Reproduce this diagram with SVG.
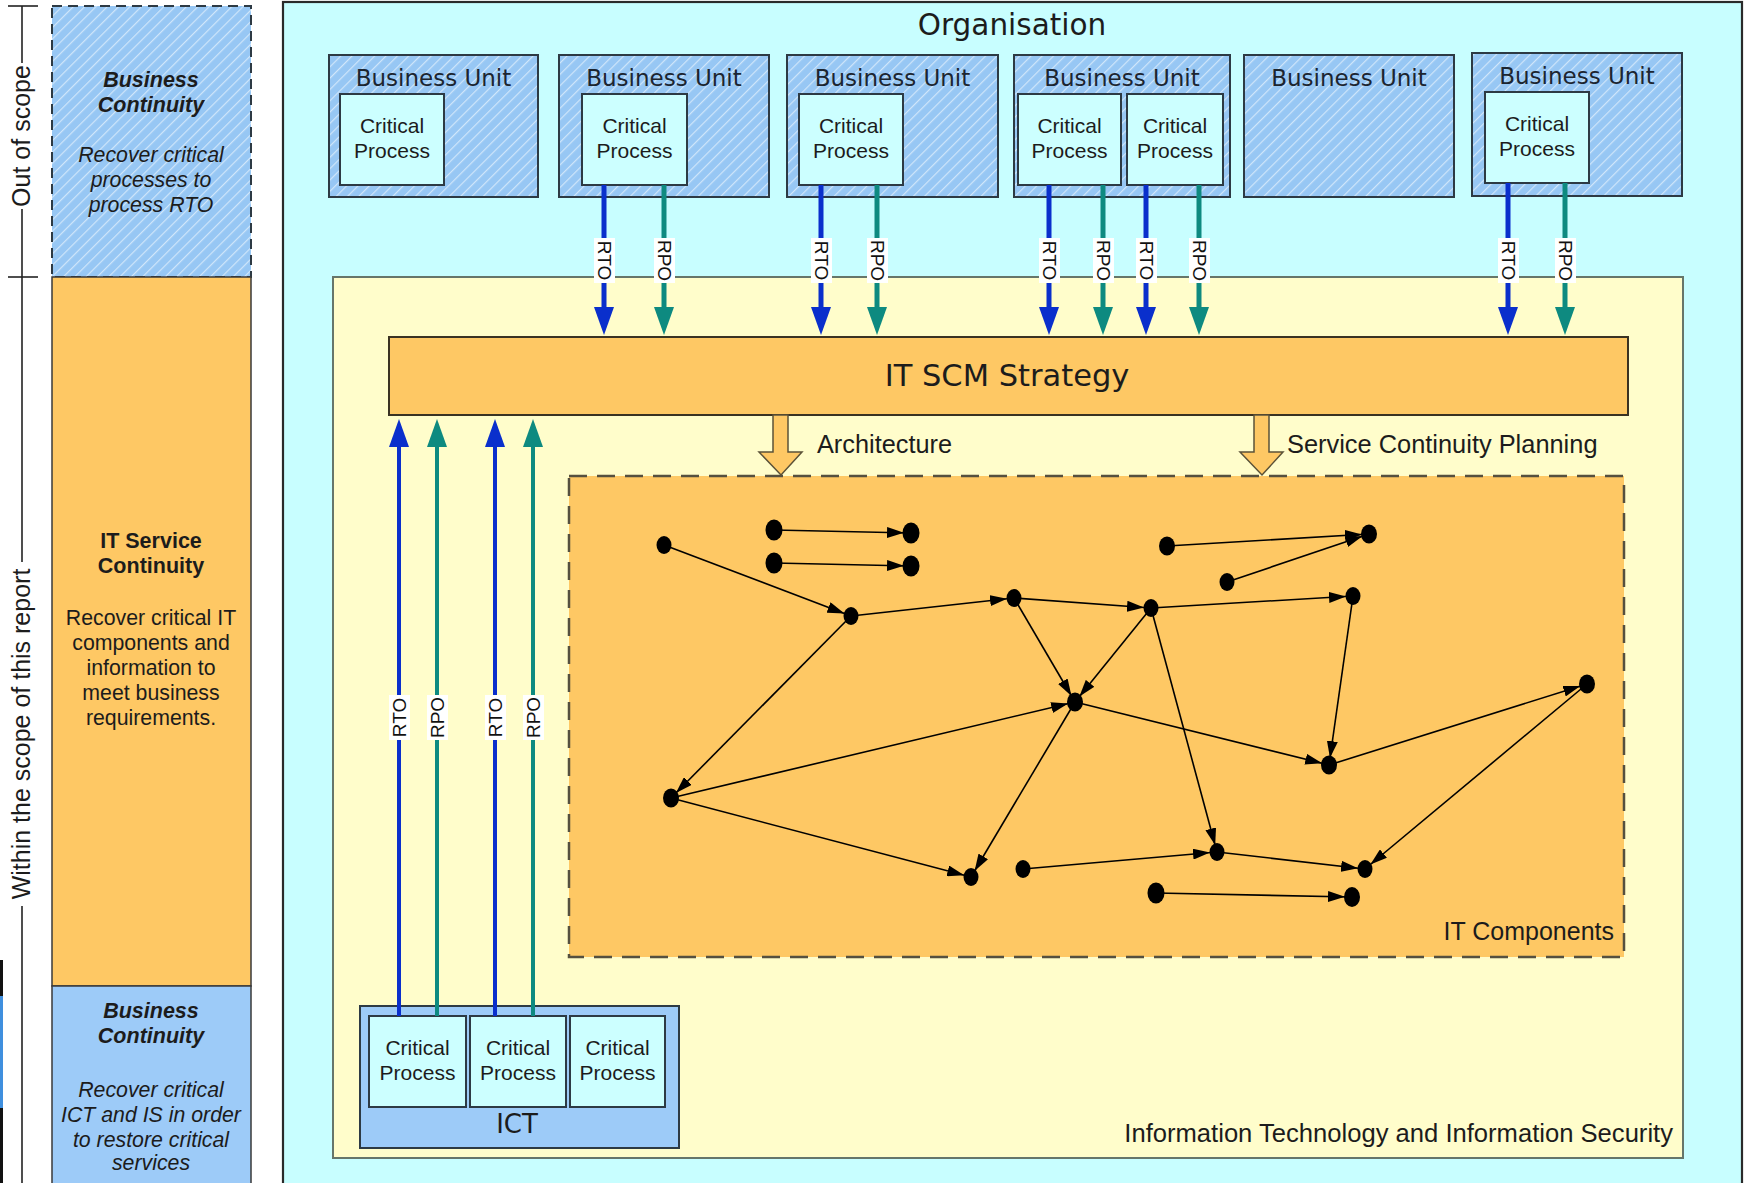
<svg xmlns="http://www.w3.org/2000/svg" width="1744" height="1183" viewBox="0 0 1744 1183">
  <defs>
    <pattern id="hatch" patternUnits="userSpaceOnUse" width="8" height="8" patternTransform="rotate(45)">
      <rect width="8" height="8" fill="#97c7f4"/>
      <line x1="0" y1="0" x2="0" y2="8" stroke="#ffffff" stroke-opacity="0.55" stroke-width="2.4"/>
    </pattern>
    <marker id="ahBlue" markerUnits="userSpaceOnUse" markerWidth="28" markerHeight="20" refX="1" refY="10" orient="auto">
      <path d="M0,0 L28,10 L0,20 z" fill="#0a2fcc"/>
    </marker>
    <marker id="ahTeal" markerUnits="userSpaceOnUse" markerWidth="28" markerHeight="20" refX="1" refY="10" orient="auto">
      <path d="M0,0 L28,10 L0,20 z" fill="#0e8a80"/>
    </marker>
    <marker id="ahDot" markerUnits="userSpaceOnUse" markerWidth="17" markerHeight="11" refX="24" refY="5.5" orient="auto">
      <path d="M0,0 L17,5.5 L0,11 z" fill="#000"/>
    </marker>
  </defs>
  <style>
    .sans { font-family: "Liberation Sans", Arial, sans-serif; fill: #1c1c1c; }
    .verd { font-family: "DejaVu Sans", Verdana, sans-serif; fill: #1c1c1c; }
    .lane-title { font-family: "Liberation Sans", Arial, sans-serif; font-size: 21.5px; font-weight: bold; fill: #1c1c1c; text-anchor: middle; }
    .lane-text { font-family: "Liberation Sans", Arial, sans-serif; font-size: 21.3px; fill: #1c1c1c; text-anchor: middle; }
    .it { font-style: italic; }
    .bu { fill: url(#hatch); stroke: #2d3a44; stroke-width: 2; }
    .bu-label { font-family: "DejaVu Sans", Verdana, sans-serif; font-size: 23px; fill: #1c2530; text-anchor: middle; }
    .cp { fill: #ccffff; stroke: #2d3a44; stroke-width: 2; }
    .cp-label { font-family: "Liberation Sans", Arial, sans-serif; font-size: 21px; fill: #1c1c1c; text-anchor: middle; }
    .rto { stroke: #0a2fcc; stroke-width: 5; fill: none; }
    .rpo { stroke: #0e8a80; stroke-width: 5; fill: none; }
    .rto-up { stroke: #0a2fcc; stroke-width: 4; fill: none; }
    .rpo-up { stroke: #0e8a80; stroke-width: 4; fill: none; }
    .flow-label { font-family: "Liberation Sans", Arial, sans-serif; font-size: 19px; fill: #111; text-anchor: middle; }
    .tag-bg { fill: #ffffff; }
    .edge { stroke: #000; stroke-width: 1.6; fill: none; }
    .dot { fill: #000; }
    .block-arrow { fill: #fec864; stroke: #5b5238; stroke-width: 1.5; }
  </style>

  <!-- page background -->
  <rect x="0" y="0" width="1744" height="1183" fill="#ffffff"/>
  <!-- cropped edge at the lower left -->
  <rect x="0" y="960" width="3" height="36" fill="#111"/>
  <rect x="0" y="996" width="3" height="112" fill="#3f8fde"/>
  <rect x="0" y="1108" width="3" height="75" fill="#111"/>

  <!-- scope ruler -->
  <g id="scope-ruler" stroke="#222" stroke-width="1.6">
    <line x1="22" y1="6" x2="22" y2="63"/>
    <line x1="22" y1="209" x2="22" y2="562"/>
    <line x1="22" y1="906" x2="22" y2="1183"/>
    <line x1="8" y1="6" x2="38" y2="6"/>
    <line x1="8" y1="277" x2="38" y2="277"/>
  </g>
  <text class="sans" font-size="25" text-anchor="middle" transform="translate(30,136) rotate(-90)">Out of scope</text>
  <text class="sans" font-size="25" text-anchor="middle" transform="translate(30,734) rotate(-90)">Within the scope of this report</text>

  <!-- left lanes -->
  <g id="lane-business-out">
    <rect x="52" y="6" width="199" height="271" fill="url(#hatch)" stroke="#2d3a44" stroke-width="2" stroke-dasharray="10 6"/>
    <text class="lane-title it" x="151" y="87">Business</text>
    <text class="lane-title it" x="151" y="112">Continuity</text>
    <text class="lane-text it" x="151" y="162">Recover critical</text>
    <text class="lane-text it" x="151" y="187">processes to</text>
    <text class="lane-text it" x="151" y="212">process RTO</text>
  </g>
  <g id="lane-it-service">
    <rect x="52" y="277" width="199" height="709" fill="#fec864" stroke="#3a3a3a" stroke-width="1.5"/>
    <text class="lane-title" x="151" y="548">IT Service</text>
    <text class="lane-title" x="151" y="573">Continuity</text>
    <text class="lane-text" x="151" y="625">Recover critical IT</text>
    <text class="lane-text" x="151" y="650">components and</text>
    <text class="lane-text" x="151" y="675">information to</text>
    <text class="lane-text" x="151" y="700">meet business</text>
    <text class="lane-text" x="151" y="725">requirements.</text>
  </g>
  <g id="lane-business-in">
    <rect x="52" y="986" width="199" height="205" fill="#9dcbf8" stroke="#3a3a3a" stroke-width="1.5"/>
    <text class="lane-title it" x="151" y="1018">Business</text>
    <text class="lane-title it" x="151" y="1043">Continuity</text>
    <text class="lane-text it" x="151" y="1097">Recover critical</text>
    <text class="lane-text it" x="151" y="1122">ICT and IS in order</text>
    <text class="lane-text it" x="151" y="1147">to restore critical</text>
    <text class="lane-text it" x="151" y="1170">services</text>
  </g>

  <!-- organisation container -->
  <g id="organisation">
    <rect x="283" y="2" width="1459" height="1195" fill="#c8feff" stroke="#2a2a2a" stroke-width="2.2"/>
    <text class="verd" font-size="29.5" text-anchor="middle" x="1012" y="35">Organisation</text>
  </g>

  <!-- IT and IS container -->
  <g id="it-is">
    <rect x="333" y="277" width="1350" height="881" fill="#fffdcb" stroke="#66766a" stroke-width="2"/>
    <text class="sans" font-size="25.6" text-anchor="end" x="1673" y="1142">Information Technology and Information Security</text>
  </g>

  <!-- business units -->
  <g id="bu-1">
    <rect class="bu" x="329" y="55" width="209" height="142"/>
    <text class="bu-label" x="433.5" y="86">Business Unit</text>
  </g>
  <g id="bu-2">
    <rect class="bu" x="559" y="55" width="210" height="142"/>
    <text class="bu-label" x="664" y="86">Business Unit</text>
  </g>
  <g id="bu-3">
    <rect class="bu" x="787" y="55" width="211" height="142"/>
    <text class="bu-label" x="892.5" y="86">Business Unit</text>
  </g>
  <g id="bu-4">
    <rect class="bu" x="1014" y="55" width="216" height="142"/>
    <text class="bu-label" x="1122" y="86">Business Unit</text>
  </g>
  <g id="bu-5">
    <rect class="bu" x="1244" y="55" width="210" height="142"/>
    <text class="bu-label" x="1349" y="86">Business Unit</text>
  </g>
  <g id="bu-6">
    <rect class="bu" x="1472" y="53" width="210" height="143"/>
    <text class="bu-label" x="1577" y="84">Business Unit</text>
  </g>

  <!-- critical processes inside business units -->
  <g id="cp-bu1">
    <rect class="cp" x="340" y="94" width="104" height="91"/>
    <text class="cp-label" x="392" y="133">Critical</text>
    <text class="cp-label" x="392" y="158">Process</text>
  </g>
  <g id="cp-bu2">
    <rect class="cp" x="582" y="94" width="105" height="91"/>
    <text class="cp-label" x="634.5" y="133">Critical</text>
    <text class="cp-label" x="634.5" y="158">Process</text>
  </g>
  <g id="cp-bu3">
    <rect class="cp" x="799" y="94" width="104" height="91"/>
    <text class="cp-label" x="851" y="133">Critical</text>
    <text class="cp-label" x="851" y="158">Process</text>
  </g>
  <g id="cp-bu4a">
    <rect class="cp" x="1018" y="94" width="103" height="91"/>
    <text class="cp-label" x="1069.5" y="133">Critical</text>
    <text class="cp-label" x="1069.5" y="158">Process</text>
  </g>
  <g id="cp-bu4b">
    <rect class="cp" x="1127" y="94" width="96" height="91"/>
    <text class="cp-label" x="1175" y="133">Critical</text>
    <text class="cp-label" x="1175" y="158">Process</text>
  </g>
  <g id="cp-bu6">
    <rect class="cp" x="1485" y="92" width="104" height="91"/>
    <text class="cp-label" x="1537" y="131">Critical</text>
    <text class="cp-label" x="1537" y="156">Process</text>
  </g>

  <!-- strategy bar -->
  <g id="it-scm-strategy">
    <rect x="389" y="337" width="1239" height="78" fill="#fec864" stroke="#3a3222" stroke-width="2"/>
    <text class="verd" font-size="30.5" text-anchor="middle" x="1007" y="386">IT SCM Strategy</text>
  </g>

  <!-- IT components area -->
  <g id="it-components">
    <rect x="569" y="476" width="1055" height="481" fill="#fec864" stroke="#55503f" stroke-width="2.5" stroke-dasharray="18 10"/>
    <text class="sans" font-size="25" text-anchor="end" x="1614" y="940">IT Components</text>
  </g>

  <!-- ICT -->
  <g id="ict">
    <rect x="360" y="1006" width="319" height="142" fill="#9dcbf8" stroke="#2d3a44" stroke-width="2"/>
    <text class="verd" font-size="26" text-anchor="middle" x="517" y="1133">ICT</text>
  </g>
  <g id="cp-ict1">
    <rect class="cp" x="369" y="1016" width="97" height="91"/>
    <text class="cp-label" x="417.5" y="1055">Critical</text>
    <text class="cp-label" x="417.5" y="1080">Process</text>
  </g>
  <g id="cp-ict2">
    <rect class="cp" x="470" y="1016" width="96" height="91"/>
    <text class="cp-label" x="518" y="1055">Critical</text>
    <text class="cp-label" x="518" y="1080">Process</text>
  </g>
  <g id="cp-ict3">
    <rect class="cp" x="570" y="1016" width="95" height="91"/>
    <text class="cp-label" x="617.5" y="1055">Critical</text>
    <text class="cp-label" x="617.5" y="1080">Process</text>
  </g>

  <!-- component nodes -->
  <g id="components">
    <g id="n1"><ellipse class="dot" cx="664" cy="545" rx="7.5" ry="9"/></g>
    <g id="n2"><ellipse class="dot" cx="774" cy="530" rx="8.5" ry="10.5"/></g>
    <g id="n3"><ellipse class="dot" cx="911" cy="533" rx="8.5" ry="10.5"/></g>
    <g id="n4"><ellipse class="dot" cx="774" cy="563" rx="8.5" ry="10.5"/></g>
    <g id="n5"><ellipse class="dot" cx="911" cy="566" rx="8.5" ry="10.5"/></g>
    <g id="n6"><ellipse class="dot" cx="851" cy="616" rx="7.5" ry="9"/></g>
    <g id="n7"><ellipse class="dot" cx="1014" cy="598" rx="7.5" ry="9"/></g>
    <g id="n8"><ellipse class="dot" cx="1075" cy="702" rx="8" ry="9.5"/></g>
    <g id="n9"><ellipse class="dot" cx="671" cy="798" rx="8" ry="9.5"/></g>
    <g id="n10"><ellipse class="dot" cx="1167" cy="546" rx="8" ry="9.5"/></g>
    <g id="n11"><ellipse class="dot" cx="1369" cy="534" rx="8" ry="9.5"/></g>
    <g id="n12"><ellipse class="dot" cx="1227" cy="582" rx="7.5" ry="9"/></g>
    <g id="n13"><ellipse class="dot" cx="1151" cy="608" rx="7.5" ry="9"/></g>
    <g id="n14"><ellipse class="dot" cx="1353" cy="596" rx="7.5" ry="9"/></g>
    <g id="n15"><ellipse class="dot" cx="1329" cy="765" rx="8" ry="9.5"/></g>
    <g id="n16"><ellipse class="dot" cx="1587" cy="684" rx="8" ry="9.5"/></g>
    <g id="n17"><ellipse class="dot" cx="971" cy="877" rx="7.5" ry="9"/></g>
    <g id="n18"><ellipse class="dot" cx="1023" cy="869" rx="7.5" ry="9"/></g>
    <g id="n19"><ellipse class="dot" cx="1217" cy="852" rx="7.5" ry="9"/></g>
    <g id="n20"><ellipse class="dot" cx="1365" cy="869" rx="7.5" ry="9"/></g>
    <g id="n21"><ellipse class="dot" cx="1156" cy="893" rx="8.5" ry="10.5"/></g>
    <g id="n22"><ellipse class="dot" cx="1352" cy="897" rx="8" ry="10"/></g>
  </g>

  <!-- connectors -->
  <g id="connectors">
    <!-- block arrows from the strategy -->
    <path class="block-arrow" d="M773,415 L788,415 L788,452 L802,452 L781,475 L759,452 L773,452 z"/>
    <path class="block-arrow" d="M1254,415 L1269,415 L1269,452 L1283,452 L1262,475 L1240,452 L1254,452 z"/>

    <!-- business requirements flowing down -->
    <line class="rto" x1="604" y1="185" x2="604" y2="308" marker-end="url(#ahBlue)"/>
    <line class="rpo" x1="664" y1="185" x2="664" y2="308" marker-end="url(#ahTeal)"/>
    <line class="rto" x1="821" y1="185" x2="821" y2="308" marker-end="url(#ahBlue)"/>
    <line class="rpo" x1="877" y1="185" x2="877" y2="308" marker-end="url(#ahTeal)"/>
    <line class="rto" x1="1049" y1="185" x2="1049" y2="308" marker-end="url(#ahBlue)"/>
    <line class="rpo" x1="1103" y1="185" x2="1103" y2="308" marker-end="url(#ahTeal)"/>
    <line class="rto" x1="1146" y1="185" x2="1146" y2="308" marker-end="url(#ahBlue)"/>
    <line class="rpo" x1="1199" y1="185" x2="1199" y2="308" marker-end="url(#ahTeal)"/>
    <line class="rto" x1="1508" y1="183" x2="1508" y2="308" marker-end="url(#ahBlue)"/>
    <line class="rpo" x1="1565" y1="183" x2="1565" y2="308" marker-end="url(#ahTeal)"/>

    <!-- ICT requirements flowing up -->
    <line class="rto-up" x1="399" y1="1016" x2="399" y2="446" marker-end="url(#ahBlue)"/>
    <line class="rpo-up" x1="437" y1="1016" x2="437" y2="446" marker-end="url(#ahTeal)"/>
    <line class="rto-up" x1="495" y1="1016" x2="495" y2="446" marker-end="url(#ahBlue)"/>
    <line class="rpo-up" x1="533" y1="1016" x2="533" y2="446" marker-end="url(#ahTeal)"/>

    <!-- labels on the flows -->
    <g id="flow-labels">
      <rect class="tag-bg" x="594" y="238" width="21" height="45"/>
      <text class="flow-label" transform="translate(597.5,260.5) rotate(90)">RTO</text>
      <rect class="tag-bg" x="654" y="238" width="21" height="45"/>
      <text class="flow-label" transform="translate(657.5,260.5) rotate(90)">RPO</text>
      <rect class="tag-bg" x="811" y="238" width="21" height="45"/>
      <text class="flow-label" transform="translate(814.5,260.5) rotate(90)">RTO</text>
      <rect class="tag-bg" x="867" y="238" width="21" height="45"/>
      <text class="flow-label" transform="translate(870.5,260.5) rotate(90)">RPO</text>
      <rect class="tag-bg" x="1039" y="238" width="21" height="45"/>
      <text class="flow-label" transform="translate(1042.5,260.5) rotate(90)">RTO</text>
      <rect class="tag-bg" x="1093" y="238" width="21" height="45"/>
      <text class="flow-label" transform="translate(1096.5,260.5) rotate(90)">RPO</text>
      <rect class="tag-bg" x="1136" y="238" width="21" height="45"/>
      <text class="flow-label" transform="translate(1139.5,260.5) rotate(90)">RTO</text>
      <rect class="tag-bg" x="1189" y="238" width="21" height="45"/>
      <text class="flow-label" transform="translate(1192.5,260.5) rotate(90)">RPO</text>
      <rect class="tag-bg" x="1498" y="238" width="21" height="45"/>
      <text class="flow-label" transform="translate(1501.5,260.5) rotate(90)">RTO</text>
      <rect class="tag-bg" x="1555" y="238" width="21" height="45"/>
      <text class="flow-label" transform="translate(1558.5,260.5) rotate(90)">RPO</text>

      <rect class="tag-bg" x="389" y="695" width="21" height="45"/>
      <text class="flow-label" transform="translate(405.5,717.5) rotate(-90)">RTO</text>
      <rect class="tag-bg" x="427" y="695" width="21" height="45"/>
      <text class="flow-label" transform="translate(443.5,717.5) rotate(-90)">RPO</text>
      <rect class="tag-bg" x="485" y="695" width="21" height="45"/>
      <text class="flow-label" transform="translate(501.5,717.5) rotate(-90)">RTO</text>
      <rect class="tag-bg" x="523" y="695" width="21" height="45"/>
      <text class="flow-label" transform="translate(539.5,717.5) rotate(-90)">RPO</text>
    </g>

    <text class="sans" font-size="25.3" x="817" y="453">Architecture</text>
    <text class="sans" font-size="25.4" x="1287" y="453">Service Continuity Planning</text>

    <!-- dependencies between IT components -->
    <line class="edge" x1="774" y1="530" x2="911" y2="533" marker-end="url(#ahDot)"/>
    <line class="edge" x1="774" y1="563" x2="911" y2="566" marker-end="url(#ahDot)"/>
    <line class="edge" x1="664" y1="545" x2="851" y2="616" marker-end="url(#ahDot)"/>
    <line class="edge" x1="851" y1="616" x2="1014" y2="598" marker-end="url(#ahDot)"/>
    <line class="edge" x1="1014" y1="598" x2="1151" y2="608" marker-end="url(#ahDot)"/>
    <line class="edge" x1="1151" y1="608" x2="1353" y2="596" marker-end="url(#ahDot)"/>
    <line class="edge" x1="1014" y1="598" x2="1075" y2="702" marker-end="url(#ahDot)"/>
    <line class="edge" x1="1151" y1="608" x2="1075" y2="702" marker-end="url(#ahDot)"/>
    <line class="edge" x1="851" y1="616" x2="671" y2="798" marker-end="url(#ahDot)"/>
    <line class="edge" x1="671" y1="798" x2="1075" y2="702" marker-end="url(#ahDot)"/>
    <line class="edge" x1="671" y1="798" x2="971" y2="877" marker-end="url(#ahDot)"/>
    <line class="edge" x1="1075" y1="702" x2="971" y2="877" marker-end="url(#ahDot)"/>
    <line class="edge" x1="1075" y1="702" x2="1329" y2="765" marker-end="url(#ahDot)"/>
    <line class="edge" x1="1151" y1="608" x2="1217" y2="852" marker-end="url(#ahDot)"/>
    <line class="edge" x1="1353" y1="596" x2="1329" y2="765" marker-end="url(#ahDot)"/>
    <line class="edge" x1="1329" y1="765" x2="1587" y2="684" marker-end="url(#ahDot)"/>
    <line class="edge" x1="1587" y1="684" x2="1365" y2="869" marker-end="url(#ahDot)"/>
    <line class="edge" x1="1023" y1="869" x2="1217" y2="852" marker-end="url(#ahDot)"/>
    <line class="edge" x1="1217" y1="852" x2="1365" y2="869" marker-end="url(#ahDot)"/>
    <line class="edge" x1="1156" y1="893" x2="1352" y2="897" marker-end="url(#ahDot)"/>
    <line class="edge" x1="1167" y1="546" x2="1369" y2="534" marker-end="url(#ahDot)"/>
    <line class="edge" x1="1227" y1="582" x2="1369" y2="534" marker-end="url(#ahDot)"/>
  </g>
</svg>
